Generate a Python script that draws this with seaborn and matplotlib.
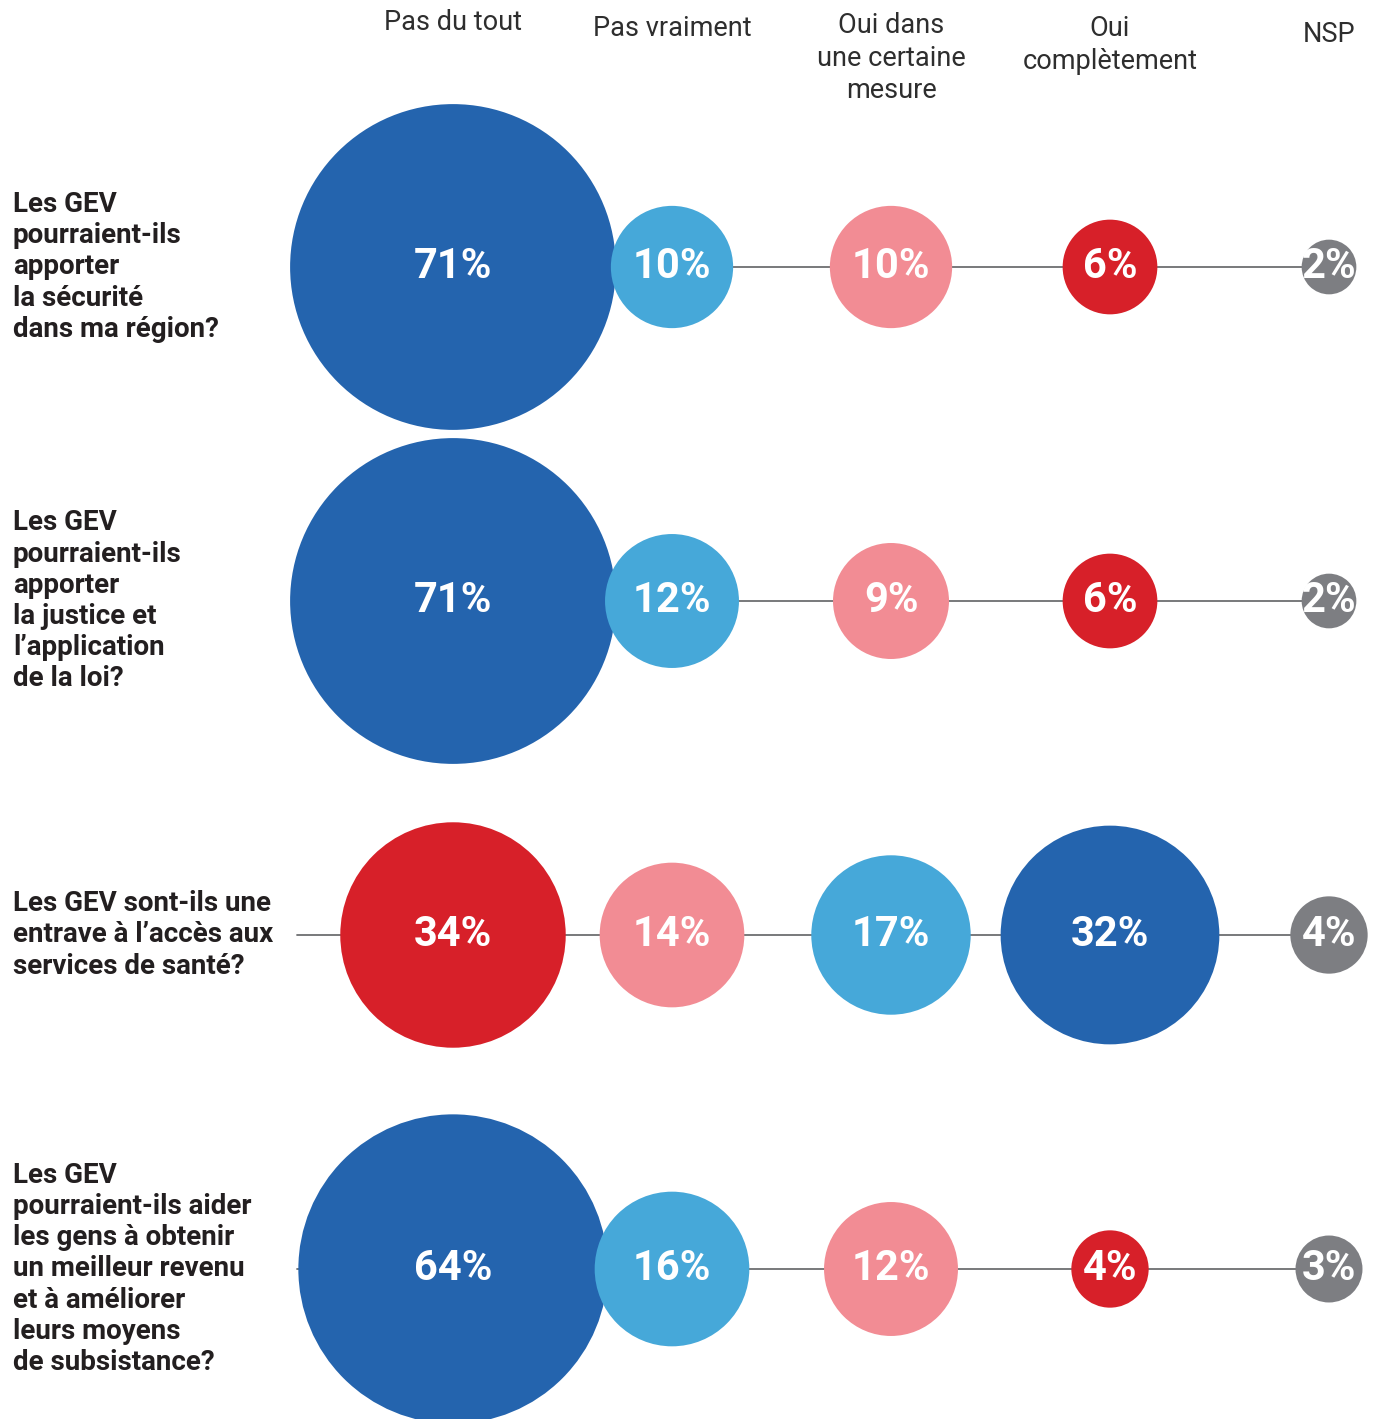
import numpy as np
import pandas as pd
import seaborn as sns
from matplotlib import pyplot as plt

# categories
reponses = ['Pas du tout', 'Pas vraiment', 'Oui dans\nune certaine\nmesure', 'Oui\ncomplètement', 'NSP']
questions = [
    'Les GEV\npourraient-ils\napporter\nla sécurité\ndans ma région?',
    'Les GEV\npourraient-ils\napporter\nla justice et\nl’application\nde la loi?',
    'Les GEV sont-ils une\nentrave à l’accès aux\nservices de santé?',
    'Les GEV\npourraient-ils aider\nles gens à obtenir\nun meilleur revenu\net à améliorer\nleurs moyens\nde subsistance?',
]

# values (%)
securite = [71, 10, 10, 6, 2]
justice = [71, 12, 9, 6, 2]
sante = [34, 14, 17, 32, 4]
revenu = [64, 16, 12, 4, 3]

# colour keys per row (health question is reversed)
couleurs_pos = ['fonce', 'clair', 'rose', 'rouge', 'gris']
couleurs_neg = ['rouge', 'rose', 'clair', 'fonce', 'gris']

palette = {'fonce': '#2464ae', 'clair': '#46a8d9', 'rose': '#f28c94',
           'rouge': '#d72029', 'gris': '#7d7e82'}

series = [securite, justice, sante, revenu]
row_colours = [couleurs_pos, couleurs_pos, couleurs_neg, couleurs_pos]

records = []
for qi, (vals, cols) in enumerate(zip(series, row_colours)):
    for ri, (v, c) in enumerate(zip(vals, cols)):
        records.append({'q': qi, 'rep': ri, 'val': v, 'coul': c})
df = pd.DataFrame(records)

# layout helpers (pixel -> data units)
COL_STEP, ROW_STEP = 219, 334
X0, Y0 = 453, 267
W, H = 1375, 1419
def px_x(p):
    return (p - X0) / COL_STEP
def px_y(p):
    return (p - Y0) / ROW_STEP

sns.set_style('white')
plt.rcParams['font.family'] = ['Roboto', 'DejaVu Sans']

fig = plt.figure(figsize=(13.75, 14.19), dpi=100)
ax = fig.add_axes([0, 0, 1, 1])
ax.set_xlim(px_x(0), px_x(W))
ax.set_ylim(px_y(H), px_y(0))
ax.axis('off')

# connecting lines
for qi in range(len(questions)):
    ax.plot([px_x(297), len(reponses) - 1], [qi, qi], color='#6d6e71', lw=1.3, zorder=1)

# bubbles: area proportional to value
k = 775
sns.scatterplot(data=df, x='rep', y='q', size='val', sizes=(k * 2, k * 71), size_norm=(2, 71),
                hue='coul', palette=palette, legend=False, linewidth=0, ax=ax, zorder=3)

for _, r in df.iterrows():
    ax.text(r['rep'], r['q'], f"{r['val']}%", ha='center', va='center', color='white',
            fontsize=30, fontweight='bold', zorder=4)

# column headers
header_y = [22, 29, 58, 45, 35]
for i, (lab, py) in enumerate(zip(reponses, header_y)):
    ax.text(i, px_y(py), lab, ha='center', va='center', fontsize=19.5, color='#2e2e2e',
            linespacing=1.25)

# row labels
for qi, lab in enumerate(questions):
    ax.text(px_x(13), qi, lab, ha='left', va='center', fontsize=20, fontweight='bold',
            color='#231f20', linespacing=1.2)

fig.savefig('out.png', dpi=100)
